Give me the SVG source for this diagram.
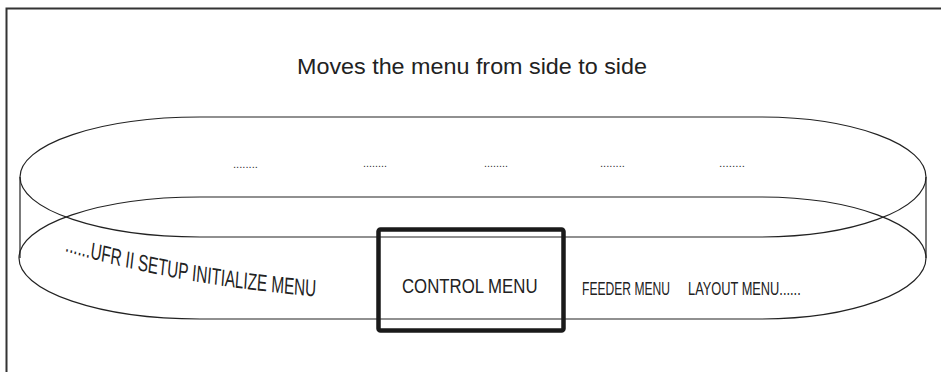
<svg xmlns="http://www.w3.org/2000/svg" xmlns:xlink="http://www.w3.org/1999/xlink" width="941" height="372" viewBox="0 0 941 372">
<style>
.band{fill:none;stroke:#222;stroke-width:1.2}
.t{font-family:"Liberation Sans",Arial,Helvetica,sans-serif;fill:#222}
.dots{font-family:"Liberation Sans",Arial,sans-serif;fill:#333;font-size:10px}
</style>
<defs>
<path id="curve" d="M 90,251 Q 250,286 450,297"/>
</defs>
<g id="frame">
<path d="M 6.5,372 L 6.5,8.5 L 941,8.5" fill="none" stroke="#333" stroke-width="2"/>
</g>
<g id="title">
<text class="t" x="297" y="74" font-size="22" textLength="350" lengthAdjust="spacingAndGlyphs">Moves the menu from side to side</text>
</g>
<g id="carousel">
<path class="band" d="M 200,117 L 760,117 A 166 60 0 0 1 760,237 L 200,237 A 180 60 0 0 1 200,117 Z"/>
<path class="band" d="M 200,197 L 760,197 A 166 61 0 0 1 760,319 L 200,319 A 181 61 0 0 1 200,197 Z"/>
<line class="band" x1="20" y1="177" x2="20" y2="258"/>
<line class="band" x1="926" y1="177" x2="926" y2="258"/>
</g>
<g id="back-items">
<text class="dots" x="233" y="168" textLength="25" lengthAdjust="spacingAndGlyphs">........</text>
<text class="dots" x="363" y="167" textLength="24" lengthAdjust="spacingAndGlyphs">........</text>
<text class="dots" x="484" y="167" textLength="24" lengthAdjust="spacingAndGlyphs">........</text>
<text class="dots" x="600" y="167" textLength="25" lengthAdjust="spacingAndGlyphs">........</text>
<text class="dots" x="719" y="167" textLength="26" lengthAdjust="spacingAndGlyphs">........</text>
</g>
<g id="left-items" transform="scale(0.72,1)">
<text class="t" font-size="23.5"><textPath xlink:href="#curve" href="#curve" textLength="352" lengthAdjust="spacingAndGlyphs">......UFR II SETUP INITIALIZE MENU</textPath></text>
</g>
<g id="control-menu">
<rect x="378.5" y="229.5" width="185" height="101" rx="2" fill="none" stroke="#1a1a1a" stroke-width="4.5"/>
<text class="t" font-size="21" transform="translate(402,293) scale(0.8,1)">CONTROL MENU</text>
</g>
<g id="right-items">
<text class="t" font-size="18.5" transform="translate(582,295) scale(0.654,1)">FEEDER MENU</text>
<text class="t" font-size="18.5" transform="translate(688,295) scale(0.693,1)">LAYOUT MENU......</text>
</g>
</svg>
